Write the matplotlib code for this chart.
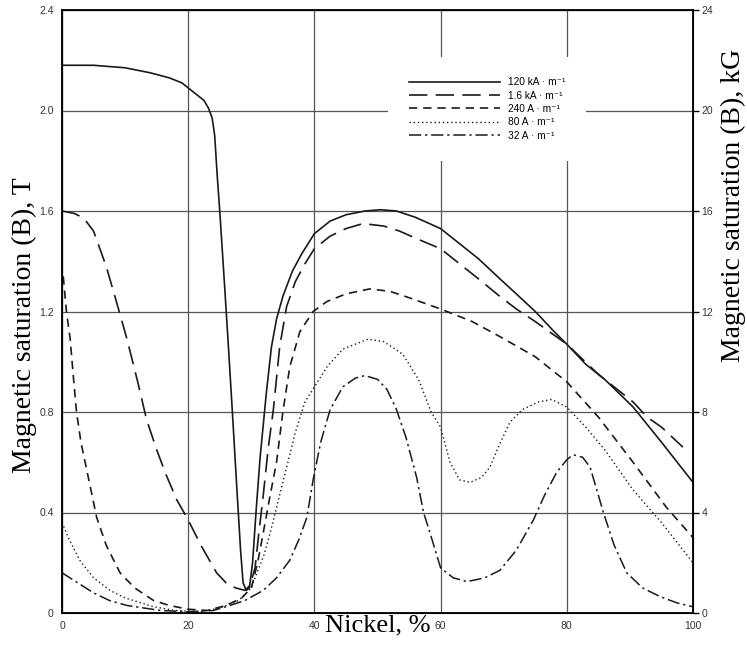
import matplotlib
matplotlib.use('Agg')
from matplotlib import pyplot as plt

# 120 kA/m (solid)
x_120k = [0, 5, 10, 14, 17, 19, 21, 22.5, 23.2, 23.8, 24.2, 24.4, 24.6, 25.0, 25.8, 26.3,
          27.0, 27.7, 28.3, 28.7, 29.2, 29.7, 30.2, 30.8, 31.4, 32.4, 33.2, 34.0,
          35.0, 36.5, 38.0, 40.0, 42.5, 45.0, 48.0, 50.5, 53.0, 56.0, 60.0, 63.0,
          66.0, 69.4, 72.0, 75.0, 78.0, 80.0, 83.0, 86.0, 90.5, 95.0, 100]
b_120k = [2.18, 2.18, 2.17, 2.15, 2.13, 2.11, 2.07, 2.04, 2.01, 1.97, 1.90, 1.82, 1.74,
          1.60, 1.29, 1.09, 0.80, 0.50, 0.25, 0.12, 0.09, 0.10, 0.20, 0.42, 0.62, 0.88,
          1.06, 1.17, 1.26, 1.36, 1.43, 1.51, 1.56, 1.585, 1.60, 1.605, 1.60, 1.575,
          1.53, 1.47, 1.41, 1.33, 1.27, 1.20, 1.12, 1.07, 0.99, 0.93, 0.82, 0.68, 0.52]

# 1.6 kA/m (long dash)
x_16k = [0, 2, 3.5, 5, 7, 8.5, 10.3, 12, 13.4, 15, 16.5, 18.2, 20, 22, 24.5, 26, 27.5,
         29, 29.8, 30.6, 31.2, 31.9, 32.7, 33.5, 34.5, 35.6, 37, 38.5, 40, 42.5, 45,
         47.7, 51, 53.5, 56.2, 60, 63, 66, 69.4, 72, 75, 80, 85, 90.5, 92.7, 95, 98.4]
b_16k = [1.60, 1.59, 1.57, 1.52, 1.38, 1.25, 1.09, 0.92, 0.77, 0.65, 0.55, 0.45, 0.37,
         0.27, 0.16, 0.12, 0.10, 0.09, 0.11, 0.18, 0.32, 0.47, 0.66, 0.81, 1.06, 1.22,
         1.32, 1.39, 1.45, 1.50, 1.53, 1.55, 1.54, 1.52, 1.49, 1.45, 1.39, 1.33, 1.26,
         1.21, 1.16, 1.07, 0.95, 0.84, 0.78, 0.74, 0.66]

# 240 A/m (short dash)
x_240 = [0.2, 0.7, 1.3, 1.8, 2.3, 3, 4, 5.5, 7, 9.2, 11.5, 14.5, 17, 20, 23, 26, 28.5,
         30, 31.0, 31.9, 33.0, 34.0, 35.0, 36.1, 37.7, 39.8, 42, 45, 48.8, 52, 55, 60,
         65, 69.4, 75, 80, 85, 90.5, 95.8, 100]
b_240 = [1.34, 1.20, 1.09, 0.94, 0.80, 0.68, 0.56, 0.38, 0.27, 0.16, 0.10, 0.05, 0.03,
         0.015, 0.01, 0.03, 0.06, 0.10, 0.20, 0.32, 0.47, 0.60, 0.80, 0.98, 1.12, 1.20,
         1.24, 1.27, 1.29, 1.28, 1.255, 1.21, 1.16, 1.10, 1.02, 0.92, 0.78, 0.60, 0.42,
         0.30]

# 80 A/m (dotted)
x_80 = [0, 1, 2.8, 5, 7.6, 10, 14.5, 18, 22, 25, 28, 30, 30.9, 32, 33, 34.3, 35.6, 37,
        38.5, 40, 42, 44.5, 48.5, 51, 54, 56.5, 58.5, 60, 61.5, 63, 64.7, 66.5, 67.8,
        69.5, 71, 73, 75.5, 77.6, 80, 83, 86, 90.5, 95, 100]
b_80 = [0.36, 0.30, 0.21, 0.14, 0.09, 0.06, 0.025, 0.01, 0.005, 0.02, 0.05, 0.10, 0.16,
        0.23, 0.32, 0.45, 0.58, 0.72, 0.84, 0.90, 0.98, 1.05, 1.09, 1.08, 1.03, 0.93,
        0.80, 0.74, 0.60, 0.53, 0.52, 0.54, 0.58, 0.68, 0.76, 0.81, 0.84, 0.85, 0.82,
        0.74, 0.65, 0.49, 0.36, 0.20]

# 32 A/m (dash-dot)
x_32 = [0, 2.5, 5, 7.5, 10.3, 15.6, 20, 24, 26.6, 29, 31.9, 34, 36.1, 37.5, 38.8, 39.8,
        41, 42.5, 44.5, 46.5, 48, 50, 51.5, 53, 54.5, 56.2, 57.3, 58.3, 60, 62, 64.2,
        67, 69.4, 72, 74.7, 76.5, 78.4, 80, 81, 82.5, 83.7, 85.8, 87.5, 89.5, 92, 94.8,
        97.5, 100]
b_32 = [0.16, 0.12, 0.08, 0.05, 0.03, 0.01, 0.005, 0.01, 0.03, 0.05, 0.09, 0.14, 0.21,
        0.29, 0.38, 0.53, 0.68, 0.81, 0.90, 0.935, 0.945, 0.93, 0.89, 0.81, 0.70, 0.54,
        0.40, 0.32, 0.18, 0.14, 0.125, 0.14, 0.17, 0.25, 0.37, 0.47, 0.56, 0.61, 0.63,
        0.62, 0.58, 0.40, 0.27, 0.16, 0.10, 0.065, 0.04, 0.025]

labels = ['120 kA · m⁻¹', '1.6 kA · m⁻¹', '240 A · m⁻¹', '80 A · m⁻¹', '32 A · m⁻¹']
x_ticks = [0, 20, 40, 60, 80, 100]
y_ticks_T = [0, 0.4, 0.8, 1.2, 1.6, 2.0, 2.4]
y_tick_labels_T = ['0', '0.4', '0.8', '1.2', '1.6', '2.0', '2.4']
y_ticks_kG = [0, 4, 8, 12, 16, 20, 24]

sans = ['Liberation Sans', 'DejaVu Sans']
serif = ['Liberation Serif', 'DejaVu Serif']

fig = plt.figure(figsize=(7.47, 6.47), dpi=100)
ax = fig.add_axes([62 / 747, 34 / 647, 631 / 747, 603 / 647])

lc = '#1a1a1a'
ax.plot(x_120k, b_120k, color=lc, lw=1.2, ls='-', label=labels[0])
ax.plot(x_16k, b_16k, color=lc, lw=1.2, ls=(0, (11, 5)), label=labels[1])
ax.plot(x_240, b_240, color=lc, lw=1.2, ls=(0, (5, 3.5)), label=labels[2])
ax.plot(x_80, b_80, color=lc, lw=1.0, ls=(0, (1, 2)), label=labels[3])
ax.plot(x_32, b_32, color=lc, lw=1.1, ls=(0, (8, 2.5, 1.5, 2.5)), label=labels[4])

ax.set_xlim(0, 100)
ax.set_ylim(0, 2.4)
ax.set_xticks(x_ticks)
ax.set_yticks(y_ticks_T)
ax.set_yticklabels(y_tick_labels_T)
ax.grid(True, color='#555555', lw=0.9)
ax.tick_params(length=0, labelsize=7.5, labelcolor='#333333', pad=6)
for lab in ax.get_xticklabels() + ax.get_yticklabels():
    lab.set_family(sans)
for s in ax.spines.values():
    s.set_linewidth(1.3)

# right axis in kG
ax2 = ax.twinx()
ax2.set_ylim(0, 24)
ax2.set_yticks(y_ticks_kG)
ax2.tick_params(length=4, width=1, labelsize=7.5, labelcolor='#333333', pad=2)
for lab in ax2.get_yticklabels():
    lab.set_family(sans)

# legend sits on a white patch that hides the grid behind it
leg = ax.legend(loc='upper left', bbox_to_anchor=(0.517, 0.922), frameon=True,
                facecolor='white', edgecolor='none', framealpha=1, fancybox=False,
                handlelength=9, handletextpad=0.8, labelspacing=0.33, borderpad=2.0,
                borderaxespad=0, prop={'family': sans, 'size': 7.3})

fig.text(378 / 747, 1 - 625 / 647, 'Nickel, %', family=serif, fontsize=19,
         ha='center', va='center')
fig.text(24 / 747, 1 - 325 / 647, 'Magnetic saturation (B), T', family=serif,
         fontsize=20, rotation=90, ha='center', va='center')
fig.text(733 / 747, 1 - 205 / 647, 'Magnetic saturation (B), kG', family=serif,
         fontsize=20, rotation=90, ha='center', va='center')

fig.savefig('out.png', dpi=100)
